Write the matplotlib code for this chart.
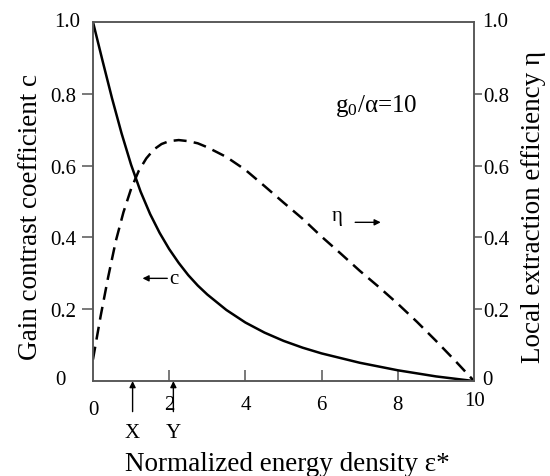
import matplotlib
matplotlib.use("Agg")
import matplotlib.pyplot as plt

plt.rcParams['font.family'] = ['Liberation Serif', 'DejaVu Serif']
plt.rcParams['mathtext.fontset'] = 'custom'
plt.rcParams['mathtext.rm'] = 'Liberation Serif'
plt.rcParams['mathtext.it'] = 'Liberation Serif'

# Gain contrast coefficient c (solid)
c_x = [0, 0.25, 0.5, 0.75, 1.0, 1.25, 1.5, 1.75, 2.0, 2.25, 2.5, 2.75, 3.0,
       3.5, 4.0, 4.5, 5.0, 5.5, 6.0, 7.0, 8.0, 9.0, 10.0]
c_y = [1.0, 0.8925, 0.7875, 0.69, 0.6025, 0.5275, 0.465, 0.4125, 0.3675,
       0.329, 0.295, 0.266, 0.241, 0.198, 0.163, 0.135, 0.112, 0.093, 0.077,
       0.051, 0.030, 0.013, 0.0]

# Local extraction efficiency eta (dashed)
eta_x = [0, 0.2, 0.4, 0.6, 0.8, 1.0, 1.2, 1.4, 1.6, 1.8, 2.0, 2.25, 2.5,
         2.75, 3.0, 3.5, 4.0, 4.5, 5.0, 5.5, 6.0, 6.5, 7.0, 7.5, 8.0, 8.5,
         9.0, 9.5, 10.0]
eta_y = [0.06, 0.18, 0.29, 0.39, 0.47, 0.535, 0.585, 0.620, 0.645, 0.660,
         0.668, 0.671, 0.668, 0.662, 0.651, 0.624, 0.588, 0.543, 0.497, 0.452,
         0.402, 0.355, 0.307, 0.262, 0.215, 0.165, 0.112, 0.057, 0.0]

x_ticks = [2, 4, 6, 8]
y_ticks = [0.2, 0.4, 0.6, 0.8]
y_ticklabels = ['0.2', '0.4', '0.6', '0.8']
marks = [('X', 1.04), ('Y', 2.11)]

fig = plt.figure(figsize=(5.5, 4.77), dpi=100)
ax = fig.add_axes([0.169, 0.199, 0.693, 0.753])
ax.set_xlim(0, 10)
ax.set_ylim(0, 1.0)

ink = 'black'
ax.plot(c_x, c_y, color=ink, lw=1.8, solid_joinstyle='round')
ax.plot(eta_x, eta_y, color=ink, lw=1.8, dashes=(5.2, 2.9))

spine_col = '#555555'
for s in ax.spines.values():
    s.set_color(spine_col)
    s.set_linewidth(1.1)

TS = 15
ax.set_xticks(x_ticks)
ax.set_xticklabels([str(t) for t in x_ticks])
ax.tick_params(axis='x', direction='in', length=8, width=1.1, color=spine_col,
               labelsize=TS, pad=10)
ax.set_yticks(y_ticks)
ax.set_yticklabels(y_ticklabels)
ax.tick_params(axis='y', direction='out', length=8, width=1.1, color=spine_col,
               labelsize=TS, pad=4)

ax2 = ax.twinx()
ax2.set_ylim(0, 1.0)
ax2.set_yticks(y_ticks)
ax2.set_yticklabels(y_ticklabels)
ax2.tick_params(axis='y', direction='out', length=6, width=1.1, color=spine_col,
                labelsize=TS, pad=0.5)
for s in ax2.spines.values():
    s.set_color(spine_col)
    s.set_linewidth(1.1)

# end labels without tick marks
ax.text(-0.034, 1.0, '1.0', transform=ax.transAxes, ha='right', va='center', fontsize=TS)
ax.text(-0.0997, 0.005, '0', transform=ax.transAxes, ha='left', va='center', fontsize=TS)
ax.text(1.022, 1.0, '1.0', transform=ax.transAxes, ha='left', va='center', fontsize=TS)
ax.text(1.022, 0.005, '0', transform=ax.transAxes, ha='left', va='center', fontsize=TS)
ax.text(0.0, -0.052, '0', transform=ax.transAxes, ha='center', va='top', fontsize=TS)
ax.text(1.0, -0.028, '10', transform=ax.transAxes, ha='center', va='top', fontsize=TS)

ax.set_ylabel('Gain contrast coefficient c', fontsize=19.5)
ax.yaxis.set_label_coords(-0.130, 0.46)
ax2.set_ylabel('Local extraction efficiency η', fontsize=19.5)
ax2.yaxis.set_label_coords(1.124, 0.487)
ax.set_xlabel('Normalized energy density ε*', fontsize=19.5)
ax.xaxis.set_label_coords(0.51, -0.195)

for lab, xv in marks:
    ax.annotate('', xy=(xv, 0.0), xytext=(xv, -0.085), annotation_clip=False,
                arrowprops=dict(arrowstyle='-|>', color=ink, lw=1.0,
                                mutation_scale=9, shrinkA=0, shrinkB=0))
    ax.text(xv, -0.142, lab, ha='center', va='center', fontsize=TS, clip_on=False)

ax.text(6.35, 0.77, r'g$_0$/α=10', fontsize=18, ha='left', va='center')

ax.text(6.4, 0.46, 'η', fontsize=15, ha='center', va='center')
ax.annotate('', xy=(7.55, 0.442), xytext=(6.88, 0.442),
            arrowprops=dict(arrowstyle='-|>', color=ink, lw=1.0,
                            mutation_scale=9, shrinkA=0, shrinkB=0))
ax.text(2.12, 0.286, 'c', fontsize=15, ha='center', va='center')
ax.annotate('', xy=(1.3, 0.286), xytext=(1.95, 0.286),
            arrowprops=dict(arrowstyle='-|>', color=ink, lw=1.0,
                            mutation_scale=9, shrinkA=0, shrinkB=0))

fig.savefig('out.png', dpi=100, facecolor='white')
